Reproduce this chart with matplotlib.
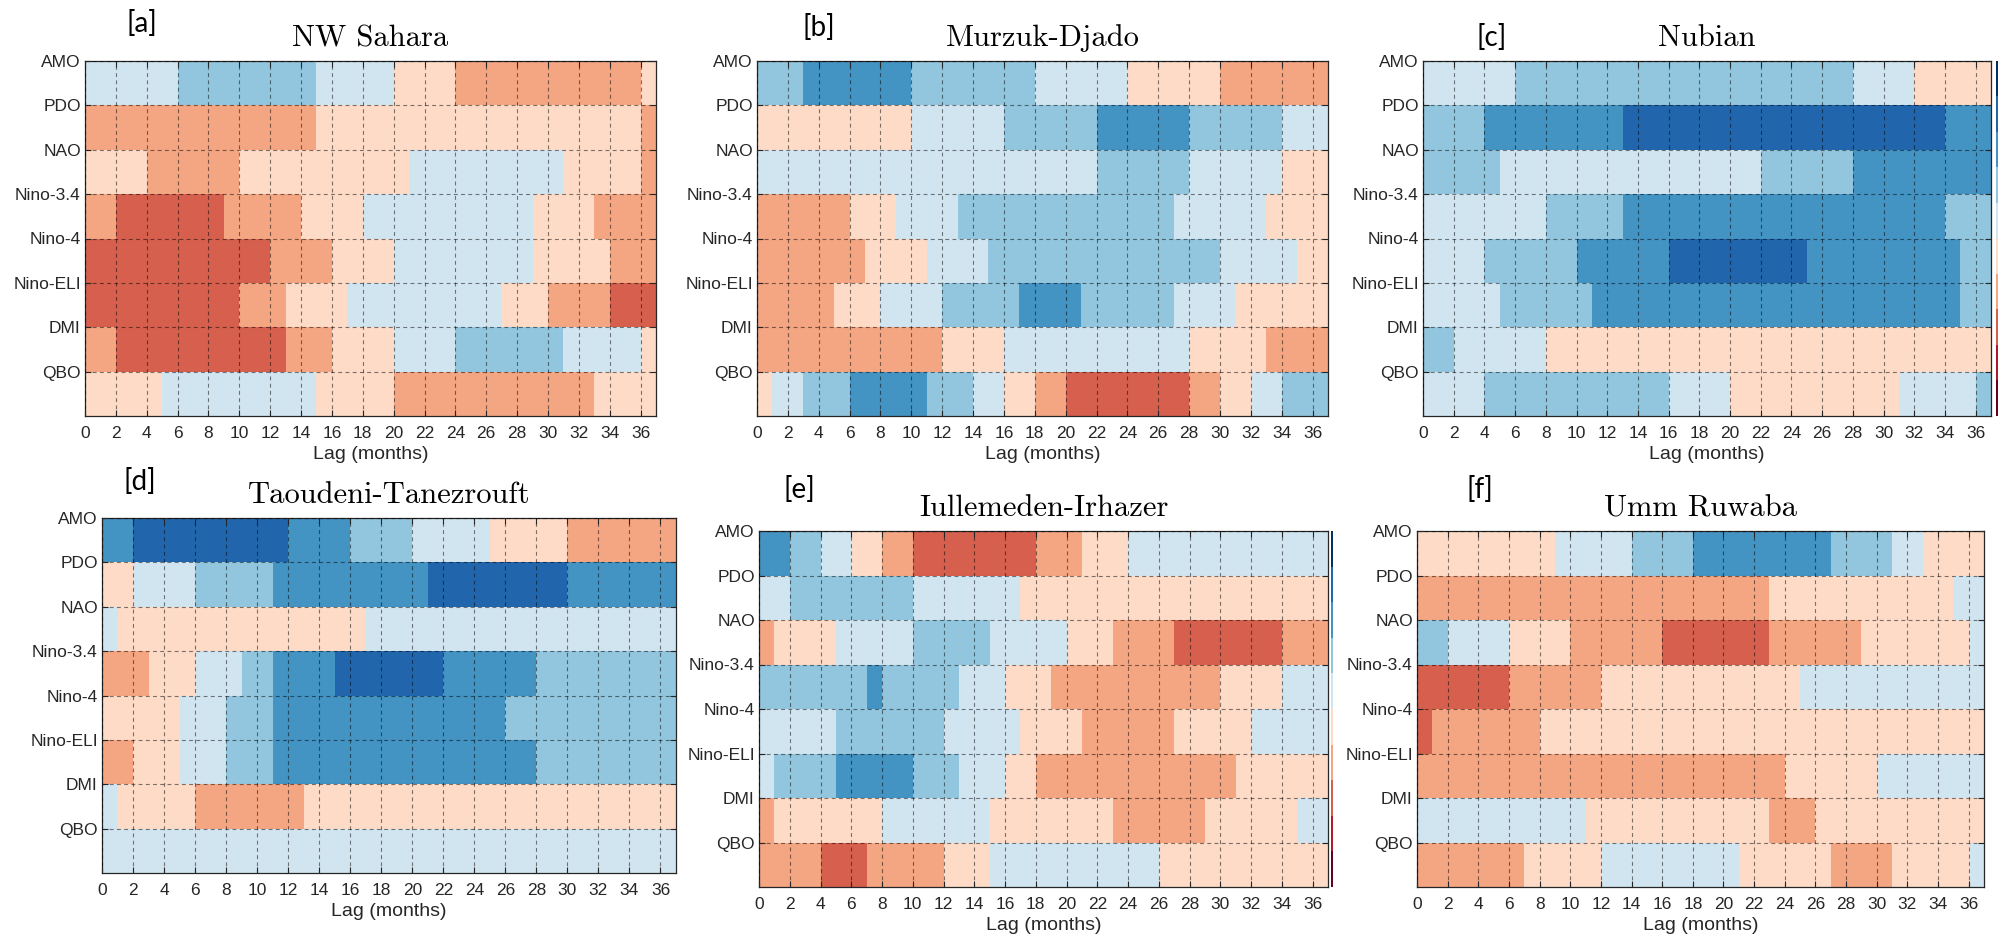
import matplotlib
matplotlib.use("Agg")
import matplotlib.pyplot as plt
from matplotlib.colors import ListedColormap, BoundaryNorm
import numpy as np

# ---------------- data ----------------
indices = ["AMO", "PDO", "NAO", "Nino-3.4", "Nino-4", "Nino-ELI", "DMI", "QBO"]
n_lags = 37                      # lags 0..36 months
xtick_vals = list(range(0, 37, 2))
titles = ["NW Sahara", "Murzuk-Djado", "Nubian",
          "Taoudeni-Tanezrouft", "Iullemeden-Irhazer", "Umm Ruwaba"]
panel_tags = ["[a]", "[b]", "[c]", "[d]", "[e]", "[f]"]

# correlation class: -4 strong negative (dark blue) ... +4 strong positive (dark red)
class_levels = [-4, -3, -2, -1, 1, 2, 3, 4]
class_colors = ["#2166ac", "#4393c3", "#92c5de", "#d1e5f0",
                "#fddbc7", "#f4a582", "#d6604d", "#b2182b"]

nw_sahara = [
    [-1,-1,-1,-1,-1,-1,-2,-2,-2,-2,-2,-2,-2,-2,-2,-1,-1,-1,-1,-1,1,1,1,1,2,2,2,2,2,2,2,2,2,2,2,2,1],
    [2,2,2,2,2,2,2,2,2,2,2,2,2,2,2,1,1,1,1,1,1,1,1,1,1,1,1,1,1,1,1,1,1,1,1,1,2],
    [1,1,1,1,2,2,2,2,2,2,1,1,1,1,1,1,1,1,1,1,1,-1,-1,-1,-1,-1,-1,-1,-1,-1,-1,1,1,1,1,1,2],
    [2,2,3,3,3,3,3,3,3,2,2,2,2,2,1,1,1,1,-1,-1,-1,-1,-1,-1,-1,-1,-1,-1,-1,1,1,1,1,2,2,2,2],
    [3,3,3,3,3,3,3,3,3,3,3,3,2,2,2,2,1,1,1,1,-1,-1,-1,-1,-1,-1,-1,-1,-1,1,1,1,1,1,2,2,2],
    [3,3,3,3,3,3,3,3,3,3,2,2,2,1,1,1,1,-1,-1,-1,-1,-1,-1,-1,-1,-1,-1,1,1,1,2,2,2,2,3,3,3],
    [2,2,3,3,3,3,3,3,3,3,3,3,3,2,2,2,1,1,1,1,-1,-1,-1,-1,-2,-2,-2,-2,-2,-2,-2,-1,-1,-1,-1,-1,1],
    [1,1,1,1,1,-1,-1,-1,-1,-1,-1,-1,-1,-1,-1,1,1,1,1,1,2,2,2,2,2,2,2,2,2,2,2,2,2,1,1,1,1],
]

murzuk_djado = [
    [-2,-2,-2,-3,-3,-3,-3,-3,-3,-3,-2,-2,-2,-2,-2,-2,-2,-2,-1,-1,-1,-1,-1,-1,1,1,1,1,1,1,2,2,2,2,2,2,2],
    [1,1,1,1,1,1,1,1,1,1,-1,-1,-1,-1,-1,-1,-2,-2,-2,-2,-2,-2,-3,-3,-3,-3,-3,-3,-2,-2,-2,-2,-2,-2,-1,-1,-1],
    [-1,-1,-1,-1,-1,-1,-1,-1,-1,-1,-1,-1,-1,-1,-1,-1,-1,-1,-1,-1,-1,-1,-2,-2,-2,-2,-2,-2,-1,-1,-1,-1,-1,-1,1,1,1],
    [2,2,2,2,2,2,1,1,1,-1,-1,-1,-1,-2,-2,-2,-2,-2,-2,-2,-2,-2,-2,-2,-2,-2,-2,-1,-1,-1,-1,-1,-1,1,1,1,1],
    [2,2,2,2,2,2,2,1,1,1,1,-1,-1,-1,-1,-2,-2,-2,-2,-2,-2,-2,-2,-2,-2,-2,-2,-2,-2,-2,-1,-1,-1,-1,-1,1,1],
    [2,2,2,2,2,1,1,1,-1,-1,-1,-1,-2,-2,-2,-2,-2,-3,-3,-3,-3,-2,-2,-2,-2,-2,-2,-1,-1,-1,-1,1,1,1,1,1,1],
    [2,2,2,2,2,2,2,2,2,2,2,2,1,1,1,1,-1,-1,-1,-1,-1,-1,-1,-1,-1,-1,-1,-1,1,1,1,1,1,2,2,2,2],
    [1,-1,-1,-2,-2,-2,-3,-3,-3,-3,-3,-2,-2,-2,-1,-1,1,1,2,2,3,3,3,3,3,3,3,3,2,2,1,1,-1,-1,-2,-2,-2],
]

nubian = [
    [-1,-1,-1,-1,-1,-1,-2,-2,-2,-2,-2,-2,-2,-2,-2,-2,-2,-2,-2,-2,-2,-2,-2,-2,-2,-2,-2,-2,-1,-1,-1,-1,1,1,1,1,1],
    [-2,-2,-2,-2,-3,-3,-3,-3,-3,-3,-3,-3,-3,-4,-4,-4,-4,-4,-4,-4,-4,-4,-4,-4,-4,-4,-4,-4,-4,-4,-4,-4,-4,-4,-3,-3,-3],
    [-2,-2,-2,-2,-2,-1,-1,-1,-1,-1,-1,-1,-1,-1,-1,-1,-1,-1,-1,-1,-1,-1,-2,-2,-2,-2,-2,-2,-3,-3,-3,-3,-3,-3,-3,-3,-3],
    [-1,-1,-1,-1,-1,-1,-1,-1,-2,-2,-2,-2,-2,-3,-3,-3,-3,-3,-3,-3,-3,-3,-3,-3,-3,-3,-3,-3,-3,-3,-3,-3,-3,-3,-2,-2,-2],
    [-1,-1,-1,-1,-2,-2,-2,-2,-2,-2,-3,-3,-3,-3,-3,-3,-4,-4,-4,-4,-4,-4,-4,-4,-4,-3,-3,-3,-3,-3,-3,-3,-3,-3,-3,-2,-2],
    [-1,-1,-1,-1,-1,-2,-2,-2,-2,-2,-2,-3,-3,-3,-3,-3,-3,-3,-3,-3,-3,-3,-3,-3,-3,-3,-3,-3,-3,-3,-3,-3,-3,-3,-3,-2,-2],
    [-2,-2,-1,-1,-1,-1,-1,-1,1,1,1,1,1,1,1,1,1,1,1,1,1,1,1,1,1,1,1,1,1,1,1,1,1,1,1,1,1],
    [-1,-1,-1,-1,-2,-2,-2,-2,-2,-2,-2,-2,-2,-2,-2,-2,-1,-1,-1,-1,1,1,1,1,1,1,1,1,1,1,1,-1,-1,-1,-1,-1,-2],
]

taoudeni_tanezrouft = [
    [-3,-3,-4,-4,-4,-4,-4,-4,-4,-4,-4,-4,-3,-3,-3,-3,-2,-2,-2,-2,-1,-1,-1,-1,-1,1,1,1,1,1,2,2,2,2,2,2,2],
    [1,1,-1,-1,-1,-1,-2,-2,-2,-2,-2,-3,-3,-3,-3,-3,-3,-3,-3,-3,-3,-4,-4,-4,-4,-4,-4,-4,-4,-4,-3,-3,-3,-3,-3,-3,-3],
    [-1,1,1,1,1,1,1,1,1,1,1,1,1,1,1,1,1,-1,-1,-1,-1,-1,-1,-1,-1,-1,-1,-1,-1,-1,-1,-1,-1,-1,-1,-1,-1],
    [2,2,2,1,1,1,-1,-1,-1,-2,-2,-3,-3,-3,-3,-4,-4,-4,-4,-4,-4,-4,-3,-3,-3,-3,-3,-3,-2,-2,-2,-2,-2,-2,-2,-2,-2],
    [1,1,1,1,1,-1,-1,-1,-2,-2,-2,-3,-3,-3,-3,-3,-3,-3,-3,-3,-3,-3,-3,-3,-3,-3,-2,-2,-2,-2,-2,-2,-2,-2,-2,-2,-2],
    [2,2,1,1,1,-1,-1,-1,-2,-2,-2,-3,-3,-3,-3,-3,-3,-3,-3,-3,-3,-3,-3,-3,-3,-3,-3,-3,-2,-2,-2,-2,-2,-2,-2,-2,-2],
    [-1,1,1,1,1,1,2,2,2,2,2,2,2,1,1,1,1,1,1,1,1,1,1,1,1,1,1,1,1,1,1,1,1,1,1,1,1],
    [-1,-1,-1,-1,-1,-1,-1,-1,-1,-1,-1,-1,-1,-1,-1,-1,-1,-1,-1,-1,-1,-1,-1,-1,-1,-1,-1,-1,-1,-1,-1,-1,-1,-1,-1,-1,-1],
]

iullemeden_irhazer = [
    [-3,-3,-2,-2,-1,-1,1,1,2,2,3,3,3,3,3,3,3,3,2,2,2,1,1,1,-1,-1,-1,-1,-1,-1,-1,-1,-1,-1,-1,-1,-1],
    [-1,-1,-2,-2,-2,-2,-2,-2,-2,-2,-1,-1,-1,-1,-1,-1,-1,1,1,1,1,1,1,1,1,1,1,1,1,1,1,1,1,1,1,1,1],
    [2,1,1,1,1,-1,-1,-1,-1,-1,-2,-2,-2,-2,-2,-1,-1,-1,-1,-1,1,1,1,2,2,2,2,3,3,3,3,3,3,3,2,2,2],
    [-2,-2,-2,-2,-2,-2,-2,-3,-2,-2,-2,-2,-2,-1,-1,-1,1,1,1,2,2,2,2,2,2,2,2,2,2,2,1,1,1,1,-1,-1,-1],
    [-1,-1,-1,-1,-1,-2,-2,-2,-2,-2,-2,-2,-1,-1,-1,-1,-1,1,1,1,1,2,2,2,2,2,2,1,1,1,1,1,-1,-1,-1,-1,-1],
    [-1,-2,-2,-2,-2,-3,-3,-3,-3,-3,-2,-2,-2,-1,-1,-1,1,1,2,2,2,2,2,2,2,2,2,2,2,2,2,1,1,1,1,1,1],
    [2,1,1,1,1,1,1,1,-1,-1,-1,-1,-1,-1,-1,1,1,1,1,1,1,1,1,2,2,2,2,2,2,1,1,1,1,1,1,-1,-1],
    [2,2,2,2,3,3,3,2,2,2,2,2,1,1,1,-1,-1,-1,-1,-1,-1,-1,-1,-1,-1,-1,1,1,1,1,1,1,1,1,1,1,1],
]

umm_ruwaba = [
    [1,1,1,1,1,1,1,1,1,-1,-1,-1,-1,-1,-2,-2,-2,-2,-3,-3,-3,-3,-3,-3,-3,-3,-3,-2,-2,-2,-2,-1,-1,1,1,1,1],
    [2,2,2,2,2,2,2,2,2,2,2,2,2,2,2,2,2,2,2,2,2,2,2,1,1,1,1,1,1,1,1,1,1,1,1,-1,-1],
    [-2,-2,-1,-1,-1,-1,1,1,1,1,2,2,2,2,2,2,3,3,3,3,3,3,3,2,2,2,2,2,2,1,1,1,1,1,1,1,-1],
    [3,3,3,3,3,3,2,2,2,2,2,2,1,1,1,1,1,1,1,1,1,1,1,1,1,-1,-1,-1,-1,-1,-1,-1,-1,-1,-1,-1,-1],
    [3,2,2,2,2,2,2,2,1,1,1,1,1,1,1,1,1,1,1,1,1,1,1,1,1,1,1,1,1,1,1,1,1,1,1,1,1],
    [2,2,2,2,2,2,2,2,2,2,2,2,2,2,2,2,2,2,2,2,2,2,2,2,1,1,1,1,1,1,-1,-1,-1,-1,-1,-1,-1],
    [-1,-1,-1,-1,-1,-1,-1,-1,-1,-1,-1,1,1,1,1,1,1,1,1,1,1,1,1,2,2,2,1,1,1,1,1,1,1,1,1,1,1],
    [2,2,2,2,2,2,2,1,1,1,1,1,-1,-1,-1,-1,-1,-1,-1,-1,-1,1,1,1,1,1,1,2,2,2,2,1,1,1,1,1,-1],
]

panels = [nw_sahara, murzuk_djado, nubian,
          taoudeni_tanezrouft, iullemeden_irhazer, umm_ruwaba]

for name, pdata in zip(titles, panels):
    for r, row in enumerate(pdata):
        if len(row) != n_lags:
            raise ValueError(f"{name} row {indices[r]} has {len(row)} values")

# ---------------- layout (pixel boxes: left, top, right, bottom) ----------------
W, H = 1998, 942
boxes = [(85, 61, 656, 416), (757, 61, 1328, 416), (1423, 61, 1991, 416),
         (102, 518, 676, 873), (759, 531, 1328, 887), (1417, 531, 1984, 887)]
tag_pos = [(142, 24), (819, 27), (1492, 37), (140, 482), (799, 490), (1480, 490)]

cmap = ListedColormap(class_colors)
norm = BoundaryNorm([-4.5, -3.5, -2.5, -1.5, 0, 1.5, 2.5, 3.5, 4.5], cmap.N)

fig = plt.figure(figsize=(W / 100, H / 100), dpi=100)
fig.patch.set_facecolor("white")

tick_font = "Liberation Sans"
edge_col = "#262626"

for k, (pdata, title, tag, box, tp) in enumerate(zip(panels, titles, panel_tags, boxes, tag_pos)):
    l, t, r, b = box
    ax = fig.add_axes([l / W, 1 - b / H, (r - l) / W, (b - t) / H])
    z = np.array(pdata, dtype=float)
    xe = np.arange(n_lags + 1)
    ye = np.arange(len(indices) + 1)
    ax.pcolormesh(xe, ye, z, cmap=cmap, norm=norm, edgecolors="none",
                  antialiased=False, zorder=1)
    ax.set_xlim(0, n_lags)
    ax.set_ylim(len(indices), 0)
    ax.set_xticks(xtick_vals)
    ax.set_xticklabels([str(v) for v in xtick_vals], fontfamily=tick_font,
                       fontsize=12.5, color=edge_col)
    ax.set_yticks(range(len(indices)))
    ax.set_yticklabels(indices, fontfamily=tick_font, fontsize=12.5, color=edge_col)
    ax.tick_params(axis="both", direction="in", length=4, width=0.8,
                   color=edge_col, top=True, right=True)
    ax.tick_params(axis="x", pad=7)
    ax.tick_params(axis="y", pad=3)
    ax.set_axisbelow(False)
    ax.grid(True, linestyle=(0, (3.5, 3)), color="black", alpha=0.5, linewidth=0.8)
    for s in ax.spines.values():
        s.set_color(edge_col)
        s.set_linewidth(0.9)
    ax.set_xlabel("Lag (months)", fontfamily=tick_font, fontsize=14,
                  color=edge_col, labelpad=4)
    ax.set_title(title, fontfamily="cmr10", fontsize=22, pad=10.5, color="black")
    fig.text(tp[0] / W, 1 - tp[1] / H, tag, fontfamily="Lato", fontsize=20,
             ha="center", va="center", color="black")

# thin slivers of the (cropped) colour bars at the right of panels c and e
bar_colors = ["#053061", "#2166ac", "#4393c3", "#92c5de", "#d1e5f0",
              "#fddbc7", "#f4a582", "#d6604d", "#b2182b", "#67001f"]
bar_cmap = ListedColormap(bar_colors)
for (bl, bt, br, bb) in [(1995.5, 61, 1998, 416), (1331, 531, 1333, 887)]:
    cax = fig.add_axes([bl / W, 1 - bb / H, (br - bl) / W, (bb - bt) / H])
    cax.imshow(np.arange(10).reshape(-1, 1), cmap=bar_cmap, aspect="auto",
               interpolation="nearest")
    cax.set_axis_off()

fig.savefig("out.png", dpi=100, facecolor="white")
